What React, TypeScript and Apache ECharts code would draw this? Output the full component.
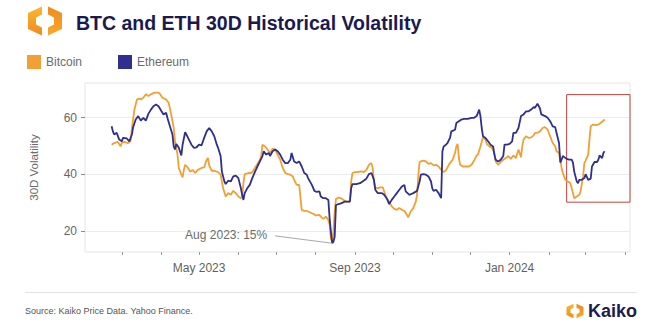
import { useEffect, useRef } from "react";
import * as echarts from "echarts";

const btcDates = [
  "2023-02-21","2023-02-23","2023-02-26","2023-02-28","2023-03-01","2023-03-03","2023-03-06","2023-03-08","2023-03-09","2023-03-11",
  "2023-03-13","2023-03-15","2023-03-16","2023-03-18","2023-03-20","2023-03-22","2023-03-24","2023-03-27","2023-03-30","2023-03-31",
  "2023-04-02","2023-04-05","2023-04-07","2023-04-09","2023-04-11","2023-04-12","2023-04-14","2023-04-15","2023-04-17","2023-04-18",
  "2023-04-19","2023-04-20","2023-04-22","2023-04-24","2023-04-26","2023-04-28","2023-04-30","2023-05-03","2023-05-05","2023-05-07",
  "2023-05-08","2023-05-09","2023-05-11","2023-05-13","2023-05-16","2023-05-18","2023-05-20","2023-05-22","2023-05-24","2023-05-26",
  "2023-05-28","2023-05-30","2023-06-01","2023-06-03","2023-06-04","2023-06-05","2023-06-06","2023-06-09","2023-06-11","2023-06-12",
  "2023-06-14","2023-06-16","2023-06-18","2023-06-19","2023-06-20","2023-06-22","2023-06-24","2023-06-26","2023-06-28","2023-06-30",
  "2023-07-02","2023-07-04","2023-07-06","2023-07-08","2023-07-10","2023-07-12","2023-07-14","2023-07-15","2023-07-17","2023-07-19",
  "2023-07-21","2023-07-23","2023-07-25","2023-07-26","2023-07-29","2023-07-31","2023-08-01","2023-08-04","2023-08-05","2023-08-07",
  "2023-08-09","2023-08-11","2023-08-12","2023-08-13","2023-08-14","2023-08-15","2023-08-16","2023-08-17","2023-08-19","2023-08-21",
  "2023-08-23","2023-08-25","2023-08-28","2023-08-29","2023-08-30","2023-09-01","2023-09-03","2023-09-06","2023-09-08","2023-09-10",
  "2023-09-12","2023-09-14","2023-09-15","2023-09-16","2023-09-17","2023-09-19","2023-09-21","2023-09-23","2023-09-24","2023-09-26",
  "2023-09-28","2023-09-30","2023-10-02","2023-10-04","2023-10-06","2023-10-08","2023-10-10","2023-10-12","2023-10-13","2023-10-15",
  "2023-10-17","2023-10-19","2023-10-20","2023-10-21","2023-10-22","2023-10-23","2023-10-25","2023-10-27","2023-10-29","2023-10-31",
  "2023-11-02","2023-11-04","2023-11-06","2023-11-08","2023-11-10","2023-11-12","2023-11-14","2023-11-15","2023-11-17","2023-11-19",
  "2023-11-20","2023-11-21","2023-11-22","2023-11-23","2023-11-25","2023-11-28","2023-11-30","2023-12-02","2023-12-04","2023-12-06",
  "2023-12-07","2023-12-09","2023-12-11","2023-12-13","2023-12-14","2023-12-16","2023-12-18","2023-12-20","2023-12-21","2023-12-23",
  "2023-12-25","2023-12-27","2023-12-29","2023-12-31","2024-01-02","2024-01-04","2024-01-06","2024-01-08","2024-01-10","2024-01-11",
  "2024-01-12","2024-01-14","2024-01-16","2024-01-18","2024-01-20","2024-01-21","2024-01-23","2024-01-25","2024-01-27","2024-01-29",
  "2024-01-31","2024-02-02","2024-02-04","2024-02-06","2024-02-07","2024-02-09","2024-02-10","2024-02-11","2024-02-12","2024-02-14",
  "2024-02-16","2024-02-18","2024-02-19","2024-02-21","2024-02-23","2024-02-25","2024-02-26","2024-02-28","2024-02-29","2024-03-01",
  "2024-03-03","2024-03-04","2024-03-05","2024-03-07","2024-03-09","2024-03-11","2024-03-12","2024-03-14","2024-03-16"
];
const btcValues = [
  50.4,51,51.4,49.8,51,51.4,51,51.8,56.3,62.8,
  66.4,66.7,66.4,67,68.2,67.6,68.2,68.8,68.8,68.4,
  67,66.4,65.2,61.1,56.3,51.6,46.9,42.2,39.8,38.9,
  41.5,43.3,42.4,40.9,41.5,40.4,41.5,42.2,42.4,45.1,
  45.7,43,41.2,41.2,40.7,39.8,35,32.1,33.3,32.7,
  34.1,33.3,32.1,31.5,32.1,36.8,40,40.4,40.4,40.7,
  42.2,43.6,45.1,46.4,50.4,49.8,48.7,47.5,49,48.7,
  46.9,45.1,42.2,40.4,40,39.8,39.2,38,36.2,36.2,
  27.4,27,27,26.8,26.2,25.8,25.4,25.6,25,24.2,
  25,23.8,22.1,17.3,16.1,19.7,26.8,31.2,31.7,31.5,
  30.9,30.3,30.3,37.4,40.4,40.7,40.7,41,40.7,41.5,
  43.3,43.9,42.2,37.4,35.3,35,35.3,35.3,33.9,31.5,
  30.3,28.6,27.7,27.4,28,27.4,27,25.6,24.7,26.8,
  28,30.3,32.7,39.8,44.3,44.5,44.8,44.5,43.6,43.9,
  43.1,43.3,42.7,41.5,40.7,41.5,43.3,43.9,45.1,47.5,
  49.8,50.7,45.7,43.3,42.7,42.7,42.7,43.3,44.8,46.6,
  46.9,49.8,53,52.2,50.7,49.8,49.3,47.5,44.5,43.3,
  44.3,45.1,45.7,46.4,45.4,46.6,45.7,48.7,46,49.8,
  52.2,53.4,52.8,53,53.7,54.6,54.6,55.1,56.3,56.6,
  55.7,53.4,51,49.8,48.1,47.5,45.1,42.2,40.4,38,
  37.4,36.8,35,31.5,32.1,32.7,33.9,39.2,43.9,44.8,
  46.9,52.2,56.9,57.5,57.3,57.5,57.8,58.5,59.3
];

const ethDates = [
  "2023-02-21","2023-02-22","2023-02-23","2023-02-25","2023-02-27","2023-03-01","2023-03-02","2023-03-05","2023-03-07","2023-03-09",
  "2023-03-10","2023-03-12","2023-03-14","2023-03-16","2023-03-18","2023-03-20","2023-03-22","2023-03-24","2023-03-26","2023-03-28",
  "2023-03-30","2023-04-01","2023-04-03","2023-04-05","2023-04-06","2023-04-08","2023-04-10","2023-04-11","2023-04-12","2023-04-13",
  "2023-04-15","2023-04-17","2023-04-18","2023-04-20","2023-04-21","2023-04-23","2023-04-25","2023-04-27","2023-04-29","2023-05-01",
  "2023-05-03","2023-05-05","2023-05-07","2023-05-09","2023-05-11","2023-05-13","2023-05-15","2023-05-16","2023-05-18","2023-05-19",
  "2023-05-21","2023-05-22","2023-05-24","2023-05-26","2023-05-28","2023-05-30","2023-06-01","2023-06-03","2023-06-04","2023-06-05",
  "2023-06-06","2023-06-08","2023-06-10","2023-06-12","2023-06-14","2023-06-16","2023-06-18","2023-06-20","2023-06-21","2023-06-23",
  "2023-06-25","2023-06-26","2023-06-28","2023-06-30","2023-07-02","2023-07-04","2023-07-06","2023-07-08","2023-07-10","2023-07-12",
  "2023-07-13","2023-07-15","2023-07-17","2023-07-19","2023-07-21","2023-07-23","2023-07-25","2023-07-26","2023-07-29","2023-07-31",
  "2023-08-02","2023-08-04","2023-08-05","2023-08-07","2023-08-09","2023-08-11","2023-08-12","2023-08-13","2023-08-14","2023-08-15",
  "2023-08-16","2023-08-17","2023-08-19","2023-08-21","2023-08-24","2023-08-28","2023-08-29","2023-08-30","2023-09-02","2023-09-05",
  "2023-09-07","2023-09-10","2023-09-12","2023-09-14","2023-09-16","2023-09-17","2023-09-19","2023-09-22","2023-09-24","2023-09-26",
  "2023-09-28","2023-09-30","2023-10-02","2023-10-04","2023-10-06","2023-10-08","2023-10-10","2023-10-11","2023-10-14","2023-10-15",
  "2023-10-17","2023-10-20","2023-10-22","2023-10-23","2023-10-25","2023-10-27","2023-10-29","2023-10-31","2023-11-01","2023-11-02",
  "2023-11-04","2023-11-06","2023-11-08","2023-11-09","2023-11-10","2023-11-11","2023-11-13","2023-11-15","2023-11-16","2023-11-19",
  "2023-11-20","2023-11-22","2023-11-24","2023-11-26","2023-11-29","2023-12-02","2023-12-04","2023-12-06","2023-12-08","2023-12-09",
  "2023-12-10","2023-12-11","2023-12-13","2023-12-15","2023-12-17","2023-12-19","2023-12-20","2023-12-21","2023-12-23","2023-12-25",
  "2023-12-27","2023-12-28","2023-12-30","2024-01-01","2024-01-03","2024-01-04","2024-01-06","2024-01-08","2024-01-10","2024-01-12",
  "2024-01-14","2024-01-16","2024-01-18","2024-01-20","2024-01-21","2024-01-23","2024-01-25","2024-01-26","2024-01-29","2024-01-31",
  "2024-02-02","2024-02-04","2024-02-06","2024-02-07","2024-02-09","2024-02-10","2024-02-11","2024-02-12","2024-02-15","2024-02-17",
  "2024-02-19","2024-02-20","2024-02-21","2024-02-23","2024-02-24","2024-02-25","2024-02-27","2024-02-29","2024-03-01","2024-03-03",
  "2024-03-05","2024-03-06","2024-03-08","2024-03-10","2024-03-11","2024-03-12","2024-03-14","2024-03-15","2024-03-16"
];
const ethValues = [
  56.9,55.1,54,54.6,52.2,51.6,52.8,52.6,51.6,54,
  56.6,59.3,60.5,58.9,59.9,58.9,61.3,62.8,64,64.6,
  64,62.5,61.1,61.7,59.9,56.9,54,49.8,48.7,50.7,
  49.3,46.6,50.4,54.8,54,52.2,50.4,49.3,49.5,50.4,
  50.2,52.8,55.1,56.3,55.1,53.4,50.4,49.3,46.4,40.9,
  37.4,36.5,37.7,37.4,39.2,39.5,38.6,35,32.7,30.9,
  33.3,35,36.2,38.6,40.7,42.7,44.5,46.4,48.1,46.9,
  47.5,46.4,48.1,48.7,48.1,46.9,45.1,43.9,43.9,45.1,
  47.5,44.5,43.9,44.5,42.7,40.4,39.8,38.6,36.2,34.1,
  33.7,33.9,32.1,31.5,31.5,30.9,24.4,19.7,15.6,16.1,
  17.9,29.1,29.4,29.7,30.3,30.3,35,36.5,36.5,36.8,
  37.4,38.4,40,40.4,38,34.5,33.3,33.3,32.7,31.5,
  29.4,30.9,32.1,33.3,34.5,35.6,36.2,33.9,32.7,32.9,
  33.3,34.1,37.4,39.8,40,39.8,39.2,37.4,35,34.1,
  34.5,33.3,31.5,48.1,49.8,50.1,51,52.8,55.1,55.7,
  58.1,58.7,59.3,59.5,59.5,59.9,59.9,60.5,62.8,60.5,
  56.3,53.4,52.8,51.6,50.4,49.8,46.9,45.1,44.5,45.1,
  46.4,50.4,50.4,50.7,51.6,54.6,54.6,56.3,60.5,61.1,
  62.2,62.2,62.8,63.7,63.4,64.9,63.2,61.1,60.5,59.9,
  58.7,56.9,56.6,54.6,51,44.1,45.1,46.4,45.4,45.1,
  45.1,44.1,40.9,37.4,36.8,38,38,38.6,40,38,
  38.4,42.7,44.3,44.3,45.1,46.6,45.7,47.5,48.1
];

const seriesNames = ["Bitcoin", "Ethereum"];
const monthTicks = [
  "2023-03-01","2023-04-01","2023-05-01","2023-06-01","2023-07-01","2023-08-01","2023-09-01",
  "2023-10-01","2023-11-01","2023-12-01","2024-01-01","2024-02-01","2024-03-01","2024-04-01"
];
const labelTicks = ["2023-05-01", "2023-09-01", "2024-01-01"];
const xRange = ["2023-01-31", "2024-04-05"];
const yTicks = [20, 40, 60];
const monthNames = ["Jan","Feb","Mar","Apr","May","Jun","Jul","Aug","Sep","Oct","Nov","Dec"];

const annotationText = "Aug 2023: 15%";
const annotationStart: [string, number] = ["2023-06-30", 18.2];
const annotationEnd: [string, number] = ["2023-08-14", 15.6];
const boxFrom: [string, number] = ["2024-02-15", 68.1];
const boxTo: [string, number] = ["2024-04-05", 30.1];

const BTC_COLOR = "#F2A033";
const ETH_COLOR = "#2E2F8E";
const FONT = "'Liberation Sans', Arial, Helvetica, sans-serif";

const leftPiece = [[15,1.4],[1,8],[1,24],[15,30.6],[15,22.5],[9,19.5],[9,12.5],[15,9.5]];
const rightPiece = [[21,1.4],[35,8],[35,24],[21,30.6],[21,22.5],[27,19.5],[27,12.5],[21,9.5]];

const ts = (d: string) => Date.parse(d + "T00:00:00Z");

function logo(x: number, y: number, s: number) {
  return {
    type: "group",
    x, y, scaleX: s, scaleY: s,
    children: [
      {
        type: "polygon",
        shape: { points: leftPiece },
        style: { fill: new echarts.graphic.LinearGradient(0, 0, 0, 1, [
          { offset: 0, color: "#F9B92E" }, { offset: 1, color: "#F08A1E" }]) },
      },
      {
        type: "polygon",
        shape: { points: rightPiece },
        style: { fill: new echarts.graphic.LinearGradient(0, 0, 0, 1, [
          { offset: 0, color: "#F08A1E" }, { offset: 1, color: "#F7AA28" }]) },
      },
    ],
  };
}

export default function App() {
  const ref = useRef<HTMLDivElement>(null);
  useEffect(() => {
    const chart = echarts.init(ref.current!, undefined, { renderer: "svg" });
    const btcData = btcDates.map((d, i) => [ts(d), btcValues[i]]);
    const ethData = ethDates.map((d, i) => [ts(d), ethValues[i]]);
    const option: any = {
      animation: false,
      backgroundColor: "#ffffff",
      textStyle: { fontFamily: FONT },
      title: {
        text: "BTC and ETH 30D Historical Volatility",
        left: 76,
        top: 13,
        padding: 0,
        textStyle: { fontSize: 19.5, fontWeight: "bold", color: "#1B1A4F", fontFamily: FONT },
      },
      legend: {
        left: 27,
        top: 55,
        padding: 0,
        itemWidth: 14,
        itemHeight: 14,
        itemGap: 36,
        icon: "rect",
        data: seriesNames,
        textStyle: { fontSize: 12, color: "#6b6b6b", fontFamily: FONT },
      },
      grid: {
        left: 85,
        right: 20,
        top: 83,
        bottom: 75,
        show: true,
        borderColor: "#e6e6e6",
        borderWidth: 1,
        backgroundColor: "transparent",
        containLabel: false,
      },
      xAxis: {
        type: "value",
        min: ts(xRange[0]),
        max: ts(xRange[1]),
        scale: true,
        axisLine: { show: false },
        axisTick: { show: true, length: 3, customValues: monthTicks.map(ts), lineStyle: { color: "#9a9a9a" } },
        axisLabel: {
          customValues: labelTicks.map(ts),
          margin: 10,
          fontSize: 12,
          color: "#5f5f5f",
          fontFamily: FONT,
          formatter: (val: number) => {
            const d = new Date(val);
            return `${monthNames[d.getUTCMonth()]} ${d.getUTCFullYear()}`;
          },
        },
        splitLine: { show: false },
      },
      yAxis: {
        type: "value",
        min: 12.5,
        max: 72.2,
        name: "30D Volatility",
        nameLocation: "middle",
        nameRotate: 90,
        nameGap: 45,
        nameTextStyle: { fontSize: 11.5, color: "#6b6b6b", fontFamily: FONT },
        axisLine: { show: false },
        axisTick: { show: true, length: 4, customValues: yTicks, lineStyle: { color: "#8a8a8a" } },
        axisLabel: { customValues: yTicks, margin: 8, fontSize: 12, color: "#666666", fontFamily: FONT },
        splitLine: { show: true, lineStyle: { color: "#ececec", width: 1 } },
      },
      series: [
        {
          name: seriesNames[0],
          type: "line",
          data: btcData,
          showSymbol: false,
          color: BTC_COLOR,
          lineStyle: { width: 1.8, color: BTC_COLOR },
          markArea: {
            silent: true,
            itemStyle: { color: "rgba(0,0,0,0)", borderColor: "#C4423F", borderWidth: 1 },
            data: [[{ coord: [ts(boxFrom[0]), boxFrom[1]] }, { coord: [ts(boxTo[0]), boxTo[1]] }]],
          },
        },
        {
          name: seriesNames[1],
          type: "line",
          data: ethData,
          showSymbol: false,
          color: ETH_COLOR,
          lineStyle: { width: 1.8, color: ETH_COLOR },
          markLine: {
            silent: true,
            symbol: ["none", "none"],
            lineStyle: { color: "#a8a8a8", width: 1, type: "solid" },
            label: {
              show: true,
              position: "start",
              distance: 8,
              formatter: annotationText,
              fontSize: 12,
              color: "#6b6b6b",
              fontFamily: FONT,
            },
            data: [[
              { coord: [ts(annotationStart[0]), annotationStart[1]] },
              { coord: [ts(annotationEnd[0]), annotationEnd[1]] },
            ]],
          },
        },
      ],
      graphic: [
        logo(27, 5, 1),
        logo(566, 303, 0.5),
        {
          type: "text",
          x: 588,
          y: 311,
          style: { text: "Kaiko", fontSize: 18, fontWeight: "bold", fill: "#1D1C4E", fontFamily: FONT, textVerticalAlign: "middle" },
        },
        {
          type: "line",
          shape: { x1: 25, y1: 292.5, x2: 637, y2: 292.5 },
          style: { stroke: "#e2e2e2", lineWidth: 1 },
        },
        {
          type: "text",
          x: 25,
          y: 311,
          style: { text: "Source: Kaiko Price Data. Yahoo Finance.", fontSize: 9, fill: "#555555", fontFamily: FONT, textVerticalAlign: "middle" },
        },
      ],
    };
    chart.setOption(option);
    return () => chart.dispose();
  }, []);
  return (
    <div
      ref={ref}
      style={{ position: "absolute", left: 0, top: 0, width: 650, height: 327, background: "#fff" }}
    />
  );
}
